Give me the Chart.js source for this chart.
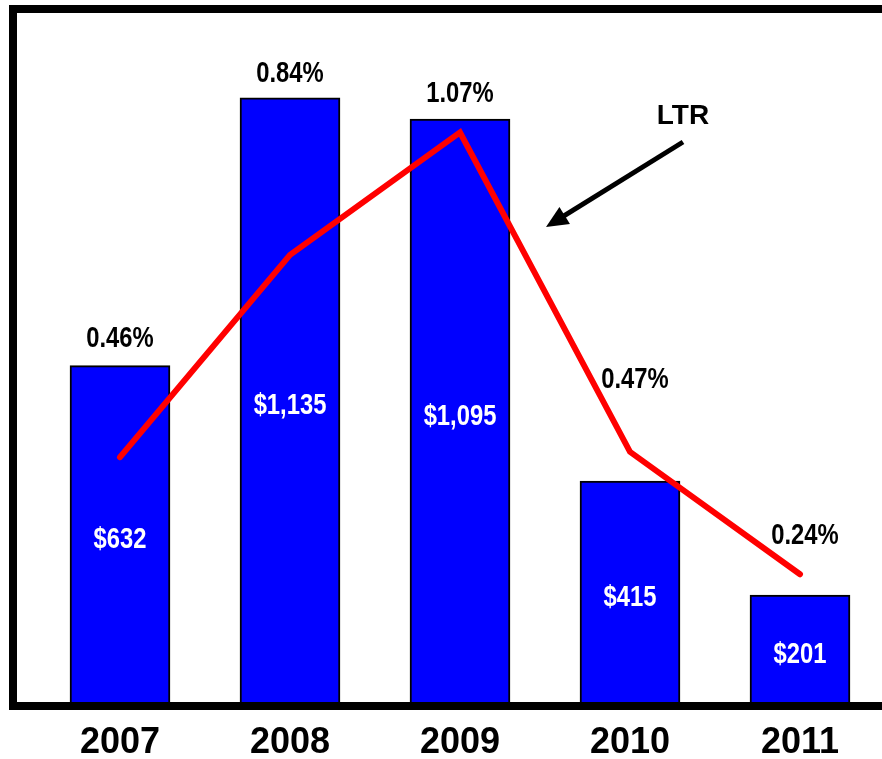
<!DOCTYPE html>
<html>
<head>
<meta charset="utf-8">
<script src="https://cdn.jsdelivr.net/npm/chart.js@4.4.0/dist/chart.umd.min.js"></script>
<style>
  html, body { margin: 0; padding: 0; background: #fff; overflow: hidden; }
  #wrap { width: 900px; height: 759px; position: relative; }
</style>
</head>
<body>
<div id="wrap"><canvas id="ltrChart"></canvas></div>
<script>
// yearly figures
const years = ["2007", "2008", "2009", "2010", "2011"];
const amounts = [632, 1135, 1095, 415, 201];
const ltrPct = [0.46, 0.84, 1.07, 0.47, 0.24];

// how far each % label sits above its bar top (px)
const pctLift = [27, 24, 25, 101, 59];

const WIDE = "'Liberation Sans', Arial, sans-serif";

// bold text squeezed horizontally (narrow face look)
function narrowText(ctx, text, x, y, color) {
  ctx.save();
  ctx.translate(x, y);
  ctx.scale(0.82, 1);
  ctx.fillStyle = color;
  ctx.font = "bold 29px " + WIDE;
  ctx.textAlign = "center";
  ctx.textBaseline = "middle";
  ctx.fillText(text, 0, 0);
  ctx.restore();
}

// thick black frame: left, top and bottom edges
const framePlugin = {
  id: "frame",
  afterDraw(chart) {
    const ctx = chart.ctx;
    ctx.save();
    ctx.fillStyle = "#000";
    ctx.fillRect(9, 5, 8, 705);
    ctx.fillRect(9, 5, 900, 8);
    ctx.fillRect(9, 702, 900, 8);
    ctx.restore();
  }
};

// % labels over bars, $ labels inside bars, LTR callout
const labelPlugin = {
  id: "labels",
  afterDatasetsDraw(chart) {
    const ctx = chart.ctx;
    const bars = chart.getDatasetMeta(1).data;

    bars.forEach((bar, i) => {
      const mid = (bar.y + bar.base) / 2;
      narrowText(ctx, "$" + amounts[i].toLocaleString("en-US"), bar.x, mid + 6, "#fff");
      narrowText(ctx, ltrPct[i].toFixed(2) + "%", bar.x + (i > 2 ? 5 : 0), bar.y - pctLift[i], "#000");
    });

    ctx.save();
    ctx.textAlign = "center";
    ctx.textBaseline = "middle";
    ctx.font = "bold 28px " + WIDE;
    ctx.fillStyle = "#000";
    ctx.fillText("LTR", 683, 116);

    // arrow toward the line
    const x0 = 683, y0 = 142, x1 = 546, y1 = 227;
    const ang = Math.atan2(y1 - y0, x1 - x0);
    ctx.strokeStyle = "#000";
    ctx.lineWidth = 5;
    ctx.beginPath();
    ctx.moveTo(x0, y0);
    ctx.lineTo(x1 - 14 * Math.cos(ang), y1 - 14 * Math.sin(ang));
    ctx.stroke();
    ctx.beginPath();
    ctx.moveTo(x1, y1);
    ctx.lineTo(x1 - 22 * Math.cos(ang) + 10 * Math.sin(ang), y1 - 22 * Math.sin(ang) - 10 * Math.cos(ang));
    ctx.lineTo(x1 - 22 * Math.cos(ang) - 10 * Math.sin(ang), y1 - 22 * Math.sin(ang) + 10 * Math.cos(ang));
    ctx.closePath();
    ctx.fillStyle = "#000";
    ctx.fill();
    ctx.restore();
  }
};

new Chart(document.getElementById("ltrChart"), {
  data: {
    labels: years,
    datasets: [
      {
        type: "line",
        label: "LTR",
        data: ltrPct,
        yAxisID: "y1",
        borderColor: "#ff0000",
        borderWidth: 6,
        borderCapStyle: "round",
        borderJoinStyle: "miter",
        pointRadius: 0,
        tension: 0,
        order: 0
      },
      {
        type: "bar",
        label: "Amount",
        data: amounts,
        yAxisID: "y",
        backgroundColor: "#0000ff",
        borderColor: "#000",
        borderWidth: 2,
        barThickness: 100,
        order: 1
      }
    ]
  },
  options: {
    responsive: true,
    maintainAspectRatio: false,
    animation: false,
    layout: { padding: { left: 35, right: 15, top: 10, bottom: 0 } },
    plugins: { legend: { display: false }, tooltip: { enabled: false } },
    scales: {
      x: {
        grid: { display: false, drawTicks: false },
        border: { display: false },
        ticks: {
          color: "#000",
          padding: 19,
          font: { family: WIDE, size: 36, weight: "bold" }
        },
        afterFit(scale) { scale.height = 57; }
      },
      y: { display: false, min: 0, max: 1300 },
      y1: { display: false, min: 0, max: 1.3 }
    }
  },
  plugins: [framePlugin, labelPlugin]
});
</script>
</body>
</html>
